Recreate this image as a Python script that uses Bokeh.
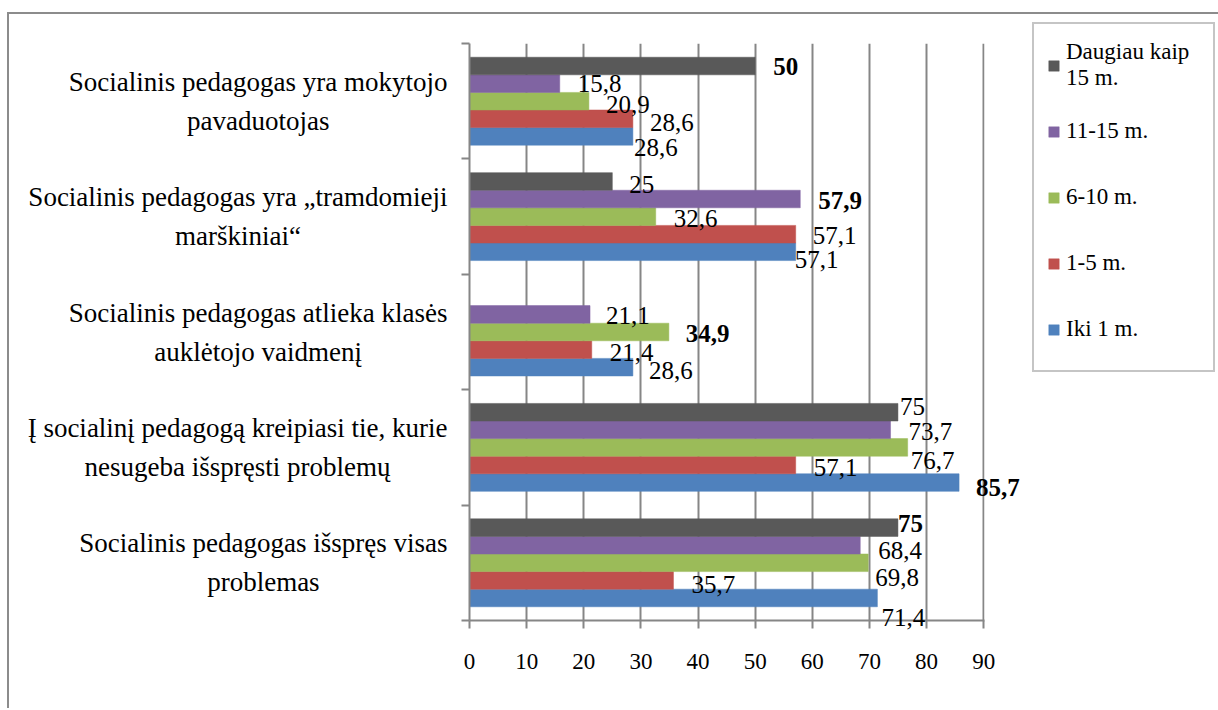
import math
from bokeh.plotting import figure
from bokeh.models import Range1d, FixedTicker, ColumnDataSource, Legend, LegendItem
from bokeh.transform import dodge
from bokeh.core.properties import value
from bokeh.embed import file_html
from bokeh.resources import INLINE

# ---------------- data ----------------
categories = [
    "Socialinis pedagogas yra mokytojo\npavaduotojas",
    "Socialinis pedagogas yra „tramdomieji\nmarškiniai“",
    "Socialinis pedagogas atlieka klasės\nauklėtojo vaidmenį",
    "Į socialinį pedagogą kreipiasi tie, kurie\nnesugeba išspręsti problemų",
    "Socialinis pedagogas išspręs visas\nproblemas",
]
series_names = ["Iki 1 m.", "1-5 m.", "6-10 m.", "11-15 m.", "Daugiau kaip\n15 m."]
iki_1 = [28.6, 57.1, 28.6, 85.7, 71.4]
m_1_5 = [28.6, 57.1, 21.4, 57.1, 35.7]
m_6_10 = [20.9, 32.6, 34.9, 76.7, 69.8]
m_11_15 = [15.8, 57.9, 21.1, 73.7, 68.4]
daugiau_15 = [50, 25, None, 75, 75]
x_ticks = [0, 10, 20, 30, 40, 50, 60, 70, 80, 90]

# ---------------- style ----------------
colors = ["#4F81BD", "#C0504D", "#9BBB59", "#8064A2", "#595959"]
# label nudges (px) relative to bar end / bar centre, per series and category
label_dx = [
    [1, -1, 16, 17, 4],
    [17, 17, 18, 18, 18],
    [17, 18, 17, 3, 7],
    [18, 18, 16, 18, 18],
    [18, 17, 0, 2, 0],
]
label_dy = [
    [11, 7.5, 3, 4.5, 20],
    [3.5, 1, 3, 3, 4.5],
    [3, 2, 1.5, 13, 14.5],
    [0, 1.5, 1.5, 2, 5],
    [0, 3, 0, -6, -4],
]
FONT = "Liberation Serif"
GRID = "#868686"
BAR_H = 0.1524

all_series = [iki_1, m_1_5, m_6_10, m_11_15, daugiau_15]
n = len(categories)
ypos = [n - 1 - i + 0.5 for i in range(n)]

p = figure(frame_width=515, frame_height=577, output_backend="svg", toolbar_location=None,
           x_range=Range1d(0, 90.15), y_range=Range1d(0, 5),
           min_border_left=460, min_border_right=232, min_border_top=29,
           min_border_bottom=88,
           styles={"margin-left": "7px", "margin-top": "12px",
                   "border-left": "2px solid #8c8c8c",
                   "border-top": "2px solid #8c8c8c"})
p.outline_line_color = None
p.background_fill_color = "white"
p.border_fill_color = "white"

# bars
renderers = []
for s, vals in enumerate(all_series):
    v = [float("nan") if x is None else x for x in vals]
    src = ColumnDataSource(dict(y=ypos, v=v))
    off = (s - 2) * BAR_H
    r = p.hbar(y=dodge("y", off, range=p.y_range), left=0, right="v", height=BAR_H,
               source=src, fill_color=colors[s], line_color=colors[s], line_width=0.5)
    renderers.append(r)

# value labels (max in each category is bold)
cat_max = [max(x for x in col if x is not None) for col in zip(*all_series)]
for s, vals in enumerate(all_series):
    ys, xs, txt, dx, dy, st = [], [], [], [], [], []
    for c, x in enumerate(vals):
        if x is None:
            continue
        ys.append(ypos[c]); xs.append(x)
        txt.append(f"{x:g}".replace(".", ","))
        dx.append(label_dx[s][c]); dy.append(label_dy[s][c])
        st.append("bold" if x == cat_max[c] else "normal")
    src = ColumnDataSource(dict(y=ys, x=xs, t=txt, dx=dx, dy=dy, st=st))
    off = (s - 2) * BAR_H
    tr = p.text(x="x", y=dodge("y", off, range=p.y_range), text="t", source=src,
                x_offset="dx", y_offset="dy", text_font=value(FONT),
                text_font_size="25px", text_font_style="st", text_color="black",
                text_align="left", text_baseline="middle")
    tr.level = "overlay"

# category labels
csrc = ColumnDataSource(dict(y=ypos, t=categories, x=[0] * n))
ct = p.text(x="x", y="y", text="t", source=csrc, x_offset=-22,
            anchor="center_right", text_align="center", text_baseline="middle",
            text_font=value(FONT), text_font_size="27px", text_color="black",
            text_line_height=1.3)
ct.level = "overlay"

# axes
xa = p.xaxis[0]
xa.ticker = FixedTicker(ticks=x_ticks)
xa.major_label_text_font = FONT
xa.major_label_text_font_size = "23px"
xa.major_label_text_color = "black"
xa.major_label_standoff = 25
xa.axis_line_color = GRID
xa.axis_line_width = 2
xa.major_tick_line_color = GRID
xa.major_tick_line_width = 2
xa.major_tick_out = 8
xa.major_tick_in = 0
xa.minor_tick_line_color = None

ya = p.yaxis[0]
ya.ticker = FixedTicker(ticks=[0, 1, 2, 3, 4, 5])
ya.major_label_overrides = {i: "" for i in range(6)}
ya.axis_line_color = GRID
ya.axis_line_width = 2
ya.major_tick_line_color = GRID
ya.major_tick_line_width = 2
ya.major_tick_out = 8
ya.major_tick_in = 0
ya.minor_tick_line_color = None

p.xgrid.ticker = FixedTicker(ticks=x_ticks)
p.xgrid.grid_line_color = GRID
p.xgrid.grid_line_width = 2
p.ygrid.grid_line_color = None

# legend (top item = last series)
items = [LegendItem(label=series_names[s], renderers=[renderers[s]]) for s in range(4, -1, -1)]
legend = Legend(items=items, location=(48, 248), margin=0)
legend.label_text_font = FONT
legend.label_text_font_size = "23px"
legend.label_text_color = "black"
legend.glyph_width = 13
legend.glyph_height = 13
legend.label_height = 56
legend.label_width = 134
legend.label_standoff = 6
legend.spacing = 10
legend.padding = 13
legend.border_line_color = "#8c8c8c"
legend.border_line_width = 2
legend.background_fill_alpha = 1
p.add_layout(legend, "right")

open("out.html", "w").write(file_html(p, INLINE))
